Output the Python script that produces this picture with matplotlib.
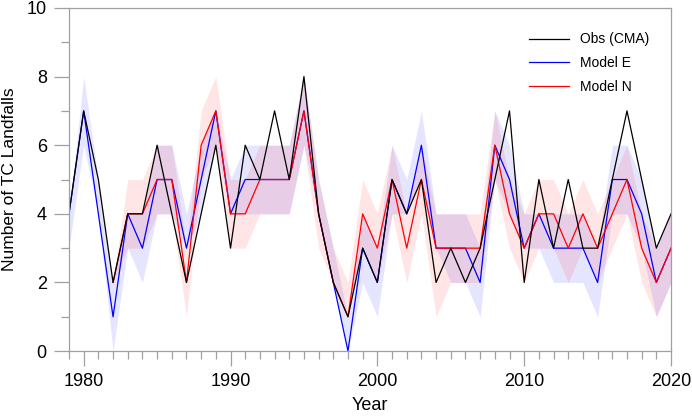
import numpy as np
import matplotlib
matplotlib.use("Agg")
import matplotlib.pyplot as plt
from matplotlib.ticker import MultipleLocator

plt.rcParams['font.family'] = ['Liberation Sans', 'DejaVu Sans']

nan = np.nan
years = np.arange(1979, 2021)

# observed landfalls (CMA)
obs = [4, 7, 5, 2, 4, 4, 6, 4, 2, 4,
       6, 3, 6, 5, 7, 5, 8, 4, 2, 1,
       3, 2, 5, 4, 5, 2, 3, 2, 3, 5,
       7, 2, 5, 3, 5, 3, 3, 5, 7, 5,
       3, 4]

# Model E ensemble mean and spread
model_e = [4, 7, 4, 1, 4, 3, 5, 5, 3, 5,
           7, 4, 5, 5, 5, 5, 7, 4, 2, 0,
           3, 2, 5, 4, 6, 3, 3, 3, 2, 6,
           5, 3, 4, 3, 3, 3, 2, 5, 5, 4,
           2, 3]
e_lo = [3, 6, 4, 0, 3, 2, 4, 4, 3, 4,
        6, 4, 4, 4, 4, 4, 6, 4, 2, 0,
        2, 1, 4, 4, 5, 3, 2, 2, 1, 5,
        4, 3, 3, 2, 2, 2, 1, 4, 4, 3,
        1, 2]
e_hi = [4, 8, 5, 2, 4, 4, 6, 6, 4, 6,
        7, 5, 6, 6, 6, 6, 8, 5, 3, 1,
        4, 3, 6, 5, 7, 4, 4, 4, 3, 7,
        6, 4, 4, 4, 4, 4, 3, 6, 6, 5,
        3, 4]

# Model N ensemble mean and spread (starts 1982)
model_n = [nan, nan, nan, 2, 4, 4, 5, 5, 2, 6,
           7, 4, 4, 5, 5, 5, 7, 4, 2, 1,
           4, 3, 5, 3, 5, 3, 3, 3, 3, 6,
           4, 3, 4, 4, 3, 4, 3, 4, 5, 3,
           2, 3]
n_lo = [nan, nan, nan, 2, 3, 3, 4, 4, 1, 5,
        6, 3, 3, 4, 4, 4, 6, 3, 2, 1,
        3, 2, 4, 2, 4, 1, 2, 2, 2, 5,
        3, 2, 3, 3, 2, 3, 2, 3, 4, 2,
        1, 2]
n_hi = [nan, nan, nan, 2, 5, 5, 6, 6, 3, 7,
        8, 5, 5, 6, 6, 6, 8, 5, 3, 2,
        5, 4, 6, 4, 6, 4, 4, 4, 4, 7,
        5, 4, 5, 5, 4, 5, 4, 5, 6, 4,
        3, 4]

fig = plt.figure(figsize=(6.92, 4.17), dpi=100)
ax = fig.add_axes([0.0997, 0.158, 0.87, 0.823])

ax.fill_between(years, e_lo, e_hi, color="blue", alpha=0.1, linewidth=0)
ax.fill_between(years, n_lo, n_hi, color="red", alpha=0.1, linewidth=0)

l_e, = ax.plot(years, model_e, color="blue", lw=0.9, label="Model E")
l_n, = ax.plot(years, model_n, color="red", lw=0.9, label="Model N")
l_o, = ax.plot(years, obs, color="black", lw=0.9, label="Obs (CMA)")

ax.set_xlim(1979, 2020)
ax.set_ylim(0, 10)
ax.xaxis.set_major_locator(MultipleLocator(10))
ax.xaxis.set_minor_locator(MultipleLocator(1))
ax.yaxis.set_major_locator(MultipleLocator(2))
ax.yaxis.set_minor_locator(MultipleLocator(1))

for s in ax.spines.values():
    s.set_color("#a0a0a0")
    s.set_linewidth(0.9)
ax.tick_params(which="major", direction="out", length=11, width=0.9,
               color="#a0a0a0", labelsize=13, pad=5)
ax.tick_params(which="minor", direction="out", length=6, width=0.9,
               color="#a0a0a0")

ax.set_xlabel("Year", fontsize=13, labelpad=5)
ax.set_ylabel("Number of TC Landfalls", fontsize=12.5)
ax.yaxis.set_label_coords(-0.086, 0.5)

ax.legend(handles=[l_o, l_e, l_n], loc="upper right", frameon=False,
          fontsize=10, handlelength=2.9, labelspacing=0.7,
          bbox_to_anchor=(0.985, 0.965))

fig.savefig("out.png", dpi=100)
